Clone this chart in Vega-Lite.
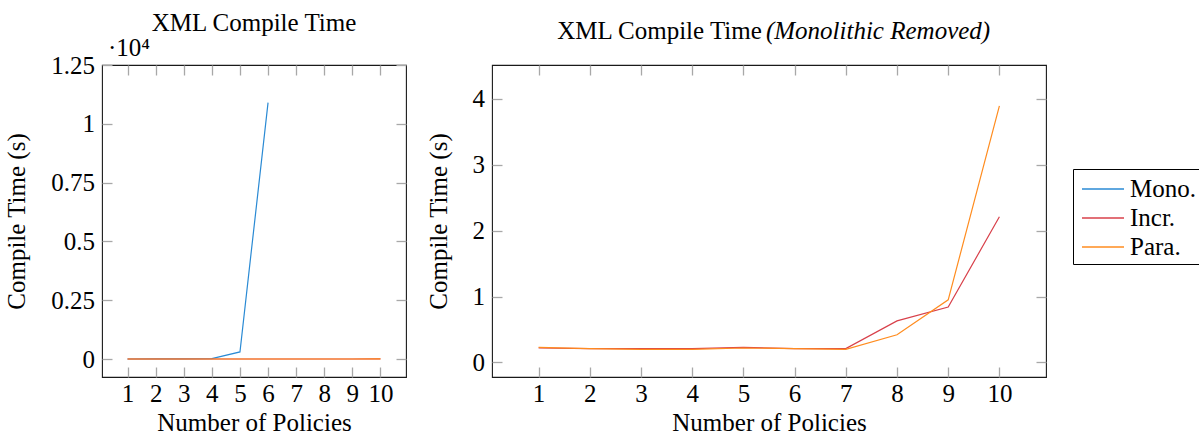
{
  "$schema": "https://vega.github.io/schema/vega-lite/v6.json",
  "background": "white",
  "padding": {"left": 4, "top": 10, "right": 0, "bottom": 0},
  "config": {
    "font": "Liberation Serif",
    "view": {"stroke": "#1a1a1a", "strokeWidth": 1.1},
    "axis": {"grid": false, "domain": false, "tickColor": "#a8a8a8", "tickWidth": 1.3, "tickSize": -10, "labelFontSize": 25, "titleFontSize": 25, "labelFont": "Liberation Serif", "titleFont": "Liberation Serif", "labelColor": "#000", "titleColor": "#000", "titleFontWeight": "normal"},
    "axisX": {"labelPadding": 14, "titlePadding": 4},
    "axisY": {"labelPadding": 17.5, "titlePadding": 21},
    "legend": {"strokeColor": "#000", "strokeWidth": 1, "padding": 4, "labelFontSize": 25, "labelFont": "Liberation Serif", "labelColor": "#000", "symbolType": "M-1.4,0H1.4", "symbolSize": 900, "symbolStrokeWidth": 1.4, "symbolOffset": 10, "labelOffset": 11, "rowPadding": 0, "fillColor": "white"},
    "text": {"font": "Liberation Serif", "fontSize": 25, "color": "#000"}
  },
  "datasets": {
    "d": [
      {"policies": 1, "series": "Mono.", "time": 0.5},
      {"policies": 2, "series": "Mono.", "time": 2},
      {"policies": 3, "series": "Mono.", "time": 5},
      {"policies": 4, "series": "Mono.", "time": 20},
      {"policies": 5, "series": "Mono.", "time": 300},
      {"policies": 6, "series": "Mono.", "time": 10900},
      {"policies": 1, "series": "Incr.", "time": 0.22},
      {"policies": 2, "series": "Incr.", "time": 0.21},
      {"policies": 3, "series": "Incr.", "time": 0.21},
      {"policies": 4, "series": "Incr.", "time": 0.21},
      {"policies": 5, "series": "Incr.", "time": 0.23},
      {"policies": 6, "series": "Incr.", "time": 0.21},
      {"policies": 7, "series": "Incr.", "time": 0.21},
      {"policies": 8, "series": "Incr.", "time": 0.63},
      {"policies": 9, "series": "Incr.", "time": 0.84},
      {"policies": 10, "series": "Incr.", "time": 2.21},
      {"policies": 1, "series": "Para.", "time": 0.23},
      {"policies": 2, "series": "Para.", "time": 0.21},
      {"policies": 3, "series": "Para.", "time": 0.2},
      {"policies": 4, "series": "Para.", "time": 0.2},
      {"policies": 5, "series": "Para.", "time": 0.22},
      {"policies": 6, "series": "Para.", "time": 0.21},
      {"policies": 7, "series": "Para.", "time": 0.2},
      {"policies": 8, "series": "Para.", "time": 0.42},
      {"policies": 9, "series": "Para.", "time": 0.95},
      {"policies": 10, "series": "Para.", "time": 3.89}
    ]
  },
  "spacing": 17,
  "resolve": {"scale": {"color": "shared"}},
  "hconcat": [
    {
      "width": 304,
      "height": 312,
      "resolve": {"axis": {"x": "independent", "y": "independent"}},
      "layer": [
        {
          "data": {"name": "d"},
          "mark": {"type": "line", "strokeWidth": 1.2, "clip": true},
          "encoding": {
            "x": {"field": "policies", "type": "quantitative", "scale": {"domain": [0.09, 10.91], "nice": false, "zero": false}, "axis": {"values": [1,2,3,4,5,6,7,8,9,10], "format": "d", "title": "Number of Policies"}},
            "y": {"field": "time", "type": "quantitative", "scale": {"domain": [-765, 12500], "nice": false, "zero": false}, "axis": {"values": [0, 2500, 5000, 7500, 10000, 12500], "labelExpr": "datum.value / 10000 + ''", "title": "Compile Time (s)"}},
            "color": {"field": "series", "type": "nominal", "sort": ["Mono.", "Incr.", "Para."], "scale": {"domain": ["Mono.", "Incr.", "Para."], "range": ["#2a8ad4", "#d8404a", "#ff8c1f"]}, "legend": {"title": null, "orient": "none", "legendX": 971, "legendY": 104}}
          }
        },
        {
          "data": {"name": "d"},
          "mark": {"type": "line", "opacity": 0},
          "encoding": {
            "x": {"field": "policies", "type": "quantitative", "axis": {"orient": "top", "values": [1,2,3,4,5,6,7,8,9,10], "labels": false, "title": null}},
            "y": {"field": "time", "type": "quantitative", "axis": {"orient": "right", "values": [0, 2500, 5000, 7500, 10000, 12500], "labels": false, "title": null}}
          }
        },
        {
          "data": {"values": [{}]},
          "mark": {"type": "text", "align": "center", "baseline": "alphabetic", "dy": -34},
          "encoding": {
            "x": {"datum": 5.5, "type": "quantitative", "axis": null},
            "y": {"datum": 12500, "type": "quantitative", "axis": null},
            "text": {"value": "XML Compile Time"}
          }
        },
        {
          "data": {"values": [{}]},
          "mark": {"type": "text", "align": "left", "baseline": "alphabetic", "dx": 6, "dy": -9},
          "encoding": {
            "x": {"datum": 0.09, "type": "quantitative", "axis": null},
            "y": {"datum": 12500, "type": "quantitative", "axis": null},
            "text": {"value": "·10⁴"}
          }
        }
      ]
    },
    {
      "width": 554,
      "height": 312,
      "resolve": {"axis": {"x": "independent", "y": "independent"}},
      "layer": [
        {
          "data": {"name": "d"},
          "transform": [{"filter": "datum.series !== 'Mono.'"}],
          "mark": {"type": "line", "strokeWidth": 1.2, "clip": true},
          "encoding": {
            "x": {"field": "policies", "type": "quantitative", "scale": {"domain": [0.09, 10.91], "nice": false, "zero": false}, "axis": {"values": [1,2,3,4,5,6,7,8,9,10], "format": "d", "title": "Number of Policies"}},
            "y": {"field": "time", "type": "quantitative", "scale": {"domain": [-0.22, 4.51], "nice": false, "zero": false}, "axis": {"values": [0, 1, 2, 3, 4], "format": "d", "title": "Compile Time (s)"}},
            "color": {"field": "series", "type": "nominal", "sort": ["Mono.", "Incr.", "Para."], "scale": {"domain": ["Mono.", "Incr.", "Para."], "range": ["#2a8ad4", "#d8404a", "#ff8c1f"]}, "legend": {"title": null, "orient": "none", "legendX": 971, "legendY": 104}}
          }
        },
        {
          "data": {"name": "d"},
          "transform": [{"filter": "datum.series !== 'Mono.'"}],
          "mark": {"type": "line", "opacity": 0},
          "encoding": {
            "x": {"field": "policies", "type": "quantitative", "axis": {"orient": "top", "values": [1,2,3,4,5,6,7,8,9,10], "labels": false, "title": null}},
            "y": {"field": "time", "type": "quantitative", "axis": {"orient": "right", "values": [0, 1, 2, 3, 4], "labels": false, "title": null}}
          }
        },
        {
          "data": {"values": [{}]},
          "mark": {"type": "text", "align": "right", "baseline": "alphabetic", "dy": -26},
          "encoding": {
            "x": {"datum": 5.36, "type": "quantitative", "axis": null},
            "y": {"datum": 4.51, "type": "quantitative", "axis": null},
            "text": {"value": "XML Compile Time"}
          }
        },
        {
          "data": {"values": [{}]},
          "mark": {"type": "text", "align": "left", "baseline": "alphabetic", "dy": -26, "fontStyle": "italic"},
          "encoding": {
            "x": {"datum": 5.44, "type": "quantitative", "axis": null},
            "y": {"datum": 4.51, "type": "quantitative", "axis": null},
            "text": {"value": "(Monolithic Removed)"}
          }
        }
      ]
    }
  ]
}
